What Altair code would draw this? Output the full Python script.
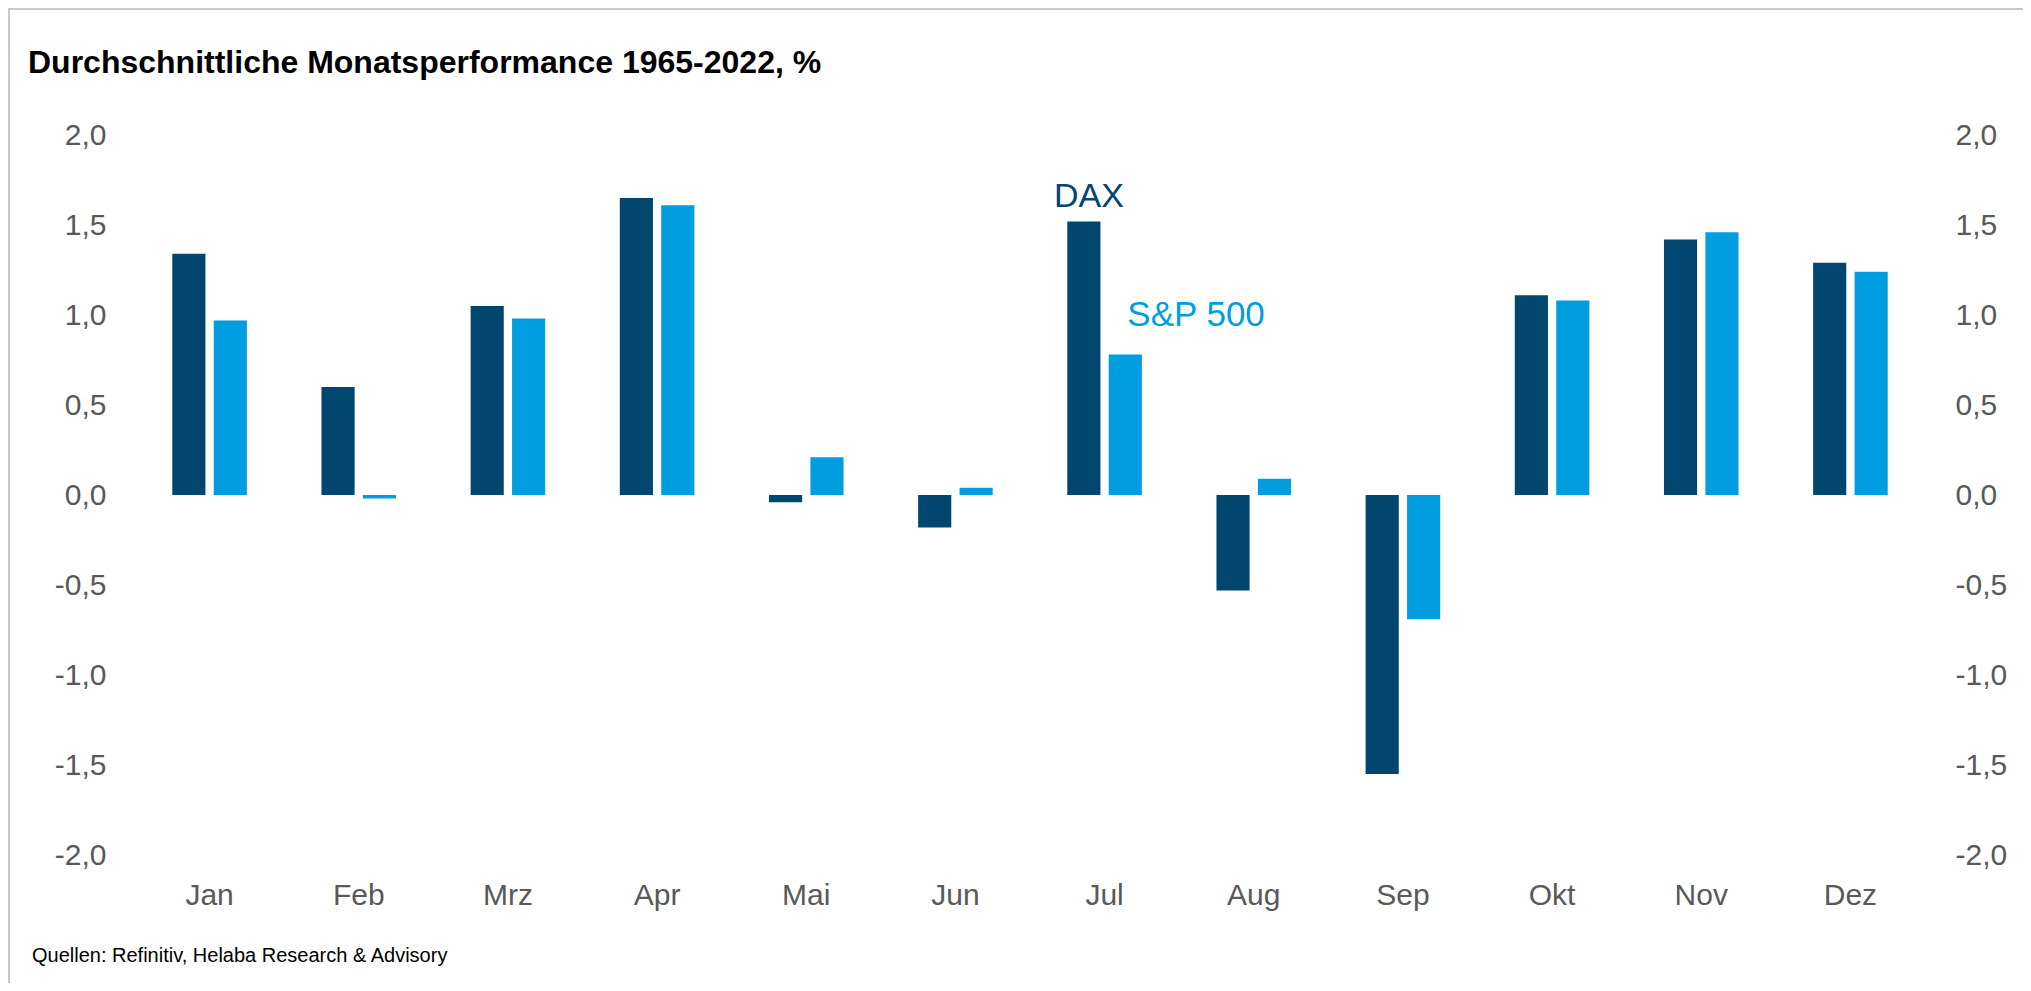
import altair as alt
import pandas as pd

# ---- data ----
months = ["Jan", "Feb", "Mrz", "Apr", "Mai", "Jun", "Jul", "Aug", "Sep", "Okt", "Nov", "Dez"]
series_names = ["DAX", "S&P 500"]
dax = [1.34, 0.60, 1.05, 1.65, -0.04, -0.18, 1.52, -0.53, -1.55, 1.11, 1.42, 1.29]
sp500 = [0.97, -0.02, 0.98, 1.61, 0.21, 0.04, 0.78, 0.09, -0.69, 1.08, 1.46, 1.24]
y_ticks = [-2.0, -1.5, -1.0, -0.5, 0.0, 0.5, 1.0, 1.5, 2.0]

title_text = "Durchschnittliche Monatsperformance 1965-2022, %"
source_text = "Quellen: Refinitiv, Helaba Research & Advisory"

# series labels placed in data space
label_text = ["DAX", "S&P 500"]
label_month = ["Jul", "Jul"]
label_value = [1.60, 0.94]

df = pd.DataFrame({
    "month": months * 2,
    "series": [series_names[0]] * 12 + [series_names[1]] * 12,
    "value": dax + sp500,
})

FONT = "Liberation Sans"
DARK = "#00466E"
LIGHT = "#009EE0"
GRAY = "#595959"

W, H = 1790, 720
PL, PT = 127, 127

label_expr = "(datum.value < 0 ? '-' : '') + replace(format(abs(datum.value), '.1f'), '.', ',')"

x_enc = alt.X(
    "month:N", sort=months,
    scale=alt.Scale(paddingInner=0.5, paddingOuter=0.25),
    axis=alt.Axis(title=None, labelAngle=0, ticks=False, domain=False, grid=False,
                  labelFontSize=30, labelColor=GRAY, labelFont=FONT, labelPadding=25),
)
xoff_enc = alt.XOffset("series:N", sort=series_names, scale=alt.Scale(paddingInner=0.2))
yscale = alt.Scale(domain=[-2, 2], nice=False, zero=False)

bars = alt.Chart(df).mark_bar().encode(
    x=x_enc,
    xOffset=xoff_enc,
    y=alt.Y("value:Q", scale=yscale,
            axis=alt.Axis(orient="left", values=y_ticks, labelExpr=label_expr, title=None,
                          ticks=False, domain=False, grid=False, labelFontSize=30,
                          labelColor=GRAY, labelFont=FONT, labelPadding=29)),
    color=alt.Color("series:N", scale=alt.Scale(domain=series_names, range=[DARK, LIGHT]), legend=None),
)

lab_dax = alt.Chart(pd.DataFrame({
    "month": [label_month[0]], "series": [series_names[0]],
    "v": [label_value[0]], "t": [label_text[0]]})).mark_text(
    align="center", baseline="alphabetic", fontSize=34, font=FONT, color=DARK, dx=5
).encode(
    x=alt.X("month:N", sort=months),
    xOffset=alt.XOffset("series:N", sort=series_names),
    y=alt.Y("v:Q", scale=yscale, axis=None),
    text="t:N",
)

lab_sp = alt.Chart(pd.DataFrame({
    "month": [label_month[1]], "series": [series_names[1]],
    "v": [label_value[1]], "t": [label_text[1]]})).mark_text(
    align="left", baseline="alphabetic", fontSize=35, font=FONT, color=LIGHT, dx=2
).encode(
    x=alt.X("month:N", sort=months),
    xOffset=alt.XOffset("series:N", sort=series_names),
    y=alt.Y("v:Q", scale=yscale,
            axis=alt.Axis(orient="right", values=y_ticks, labelExpr=label_expr, title=None,
                          ticks=False, domain=False, grid=False, labelFontSize=30,
                          labelColor=GRAY, labelFont=FONT, labelPadding=30)),
    text="t:N",
)

title = alt.Chart(pd.DataFrame({"t": [title_text]})).mark_text(
    align="left", baseline="alphabetic", fontSize=32, fontWeight="bold", font=FONT, color="#000000"
).encode(x=alt.value(-107), y=alt.value(-62), text="t:N")

source = alt.Chart(pd.DataFrame({"t": [source_text]})).mark_text(
    align="left", baseline="alphabetic", fontSize=20, font=FONT, color="#000000"
).encode(x=alt.value(-103), y=alt.value(827), text="t:N")

one = pd.DataFrame({"a": [0]})
frame_left = alt.Chart(one).mark_rule(color="#C8C8C8", strokeWidth=2).encode(
    x=alt.value(-PL + 1), y=alt.value(-PT), y2=alt.value(H + 130))
frame_top = alt.Chart(one).mark_rule(color="#C8C8C8", strokeWidth=2).encode(
    x=alt.value(-PL), x2=alt.value(W + 100), y=alt.value(-PT + 1))

chart = alt.layer(frame_left, frame_top, bars, lab_dax, lab_sp, title, source).resolve_scale(
    y="independent"
).properties(
    width=W, height=H,
    background="white",
    autosize=alt.AutoSizeParams(type="none"),
    padding={"left": PL, "top": PT, "right": 98, "bottom": 128},
).configure_view(stroke=None)

chart.save("out.html", embed_options={"renderer": "svg", "actions": False})
